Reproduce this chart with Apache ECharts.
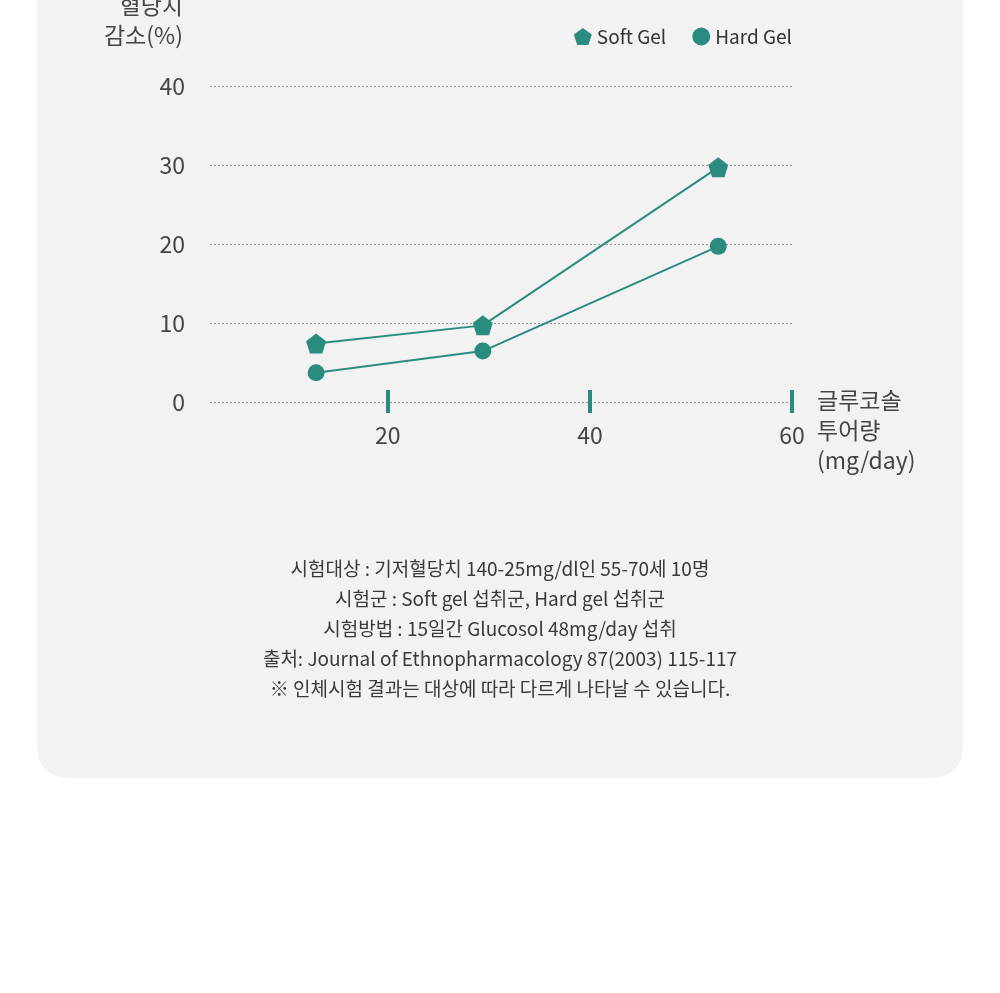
<!DOCTYPE html>
<html>
<head>
<meta charset="utf-8">
<script src="https://cdn.jsdelivr.net/npm/echarts@6/dist/echarts.min.js"></script>
<style>
  html, body { margin: 0; padding: 0; background: #fff; }
  #chart { width: 1000px; height: 993px; }
</style>
</head>
<body>
<div id="chart"></div>
<script>
// 데이터
const doseX = [12.9, 29.4, 52.7];
const softGel = [7.4, 9.7, 29.7];
const hardGel = [3.7, 6.45, 19.7];
const xTicks = [20, 40, 60];
const seriesNames = ['Soft Gel', 'Hard Gel'];
const notes = [
  '시험대상 : 기저혈당치 140-25mg/dl인 55-70세 10명',
  '시험군 : Soft gel 섭취군, Hard gel 섭취군',
  '시험방법 : 15일간 Glucosol 48mg/day 섭취',
  '출처: Journal of Ethnopharmacology 87(2003) 115-117',
  '※ 인체시험 결과는 대상에 따라 다르게 나타날 수 있습니다.'
];

const TEAL = '#2a8c7f';
const FONT = '"Noto Sans CJK KR", "Noto Sans", sans-serif';
const PENTAGON = 'path://M0,-10L9.51,-3.09L5.88,8.09L-5.88,8.09L-9.51,-3.09Z';

const chart = echarts.init(document.getElementById('chart'));

const pairs = arr => doseX.map((x, i) => [x, arr[i]]);

// x축 눈금은 축선 위아래로 걸치도록 두 축으로 나눠 그림
const baseX = {
  type: 'value',
  min: 2.4,
  max: 60,
  position: 'bottom',
  axisLine: { show: false },
  splitLine: { show: false }
};

chart.setOption({
  backgroundColor: '#fff',
  textStyle: { fontFamily: FONT },
  animation: false,
  graphic: [
    {
      type: 'rect', z: -10,
      shape: { x: 37, y: -60, width: 926, height: 838, r: 30 },
      style: { fill: '#f2f2f2' }
    },
    {
      type: 'text',
      x: 183, y: 20,
      style: {
        text: '혈당치\n감소(%)', fill: '#444', font: '23px ' + FONT,
        align: 'right', verticalAlign: 'middle', lineHeight: 30
      }
    },
    {
      type: 'text',
      x: 817, y: 385,
      style: {
        text: '글루코솔\n투어량\n(mg/day)', fill: '#444', font: '23px ' + FONT,
        align: 'left', verticalAlign: 'top', lineHeight: 30
      }
    },
    {
      type: 'text',
      x: 500, y: 554,
      style: {
        text: notes.join('\n'), fill: '#3a3a3a', font: '19px ' + FONT,
        align: 'center', verticalAlign: 'top', lineHeight: 30
      }
    }
  ],
  legend: {
    data: [
      { name: seriesNames[0], icon: PENTAGON },
      { name: seriesNames[1], icon: 'circle' }
    ],
    right: 203,
    top: 22,
    itemWidth: 18,
    itemHeight: 18,
    itemGap: 26,
    textStyle: { color: '#333', fontSize: 19, fontFamily: FONT }
  },
  grid: { left: 210, right: 208, top: 86, bottom: 591, containLabel: false },
  xAxis: [
    Object.assign({}, baseX, {
      axisTick: {
        show: true, inside: false, length: 11, customValues: xTicks,
        lineStyle: { color: TEAL, width: 4 }
      },
      axisLabel: {
        customValues: xTicks, margin: 22,
        color: '#444', fontSize: 23, fontFamily: FONT
      }
    }),
    Object.assign({}, baseX, {
      axisTick: {
        show: true, inside: true, length: 12, customValues: xTicks,
        lineStyle: { color: TEAL, width: 4 }
      },
      axisLabel: { show: false }
    })
  ],
  yAxis: {
    type: 'value',
    min: 0,
    max: 40,
    interval: 10,
    axisLine: { show: false },
    axisTick: { show: false },
    axisLabel: { margin: 25, color: '#444', fontSize: 23, fontFamily: FONT },
    splitLine: { lineStyle: { color: '#999', type: [2, 2], width: 1.2 } }
  },
  series: [
    {
      name: seriesNames[0], type: 'line',
      data: pairs(softGel),
      symbol: PENTAGON, symbolSize: 20,
      itemStyle: { color: TEAL },
      lineStyle: { color: TEAL, width: 2 }
    },
    {
      name: seriesNames[1], type: 'line',
      data: pairs(hardGel),
      symbol: 'circle', symbolSize: 17,
      itemStyle: { color: TEAL },
      lineStyle: { color: TEAL, width: 2 }
    }
  ]
});
</script>
</body>
</html>
